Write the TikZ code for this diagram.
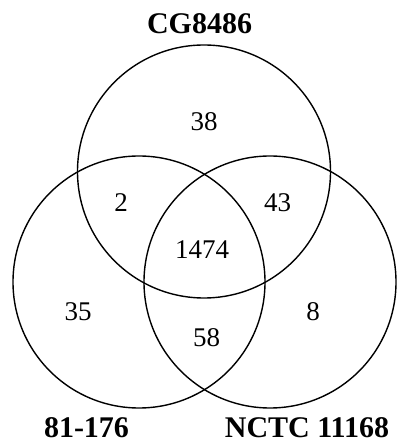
\documentclass[tikz,border=0pt]{standalone}
\usepackage{fontspec}
\setmainfont{Liberation Serif}
\begin{document}
\begin{tikzpicture}[x=1pt,y=1pt,
  ring/.style={draw=black,line width=1.4pt},
  num/.style={inner sep=0pt,font=\fontsize{27}{27}\selectfont},
  setlabel/.style={inner sep=0pt,font=\fontsize{30}{30}\selectfont\bfseries}]
\useasboundingbox[fill=white] (0,0) rectangle (398,443);
\draw[ring] (204,271.5) circle[radius=126.5];
\draw[ring] (139,161) circle[radius=126];
\draw[ring] (270,161) circle[radius=126];
\node[setlabel] (lt) at (199.5,419) {CG8486};
\node[setlabel] (ll) at (86.5,15) {81-176};
\node[setlabel] (lr) at (307,15) {NCTC 11168};
\node[num] (n38) at (204,321) {38};
\node[num] (n2) at (121,240) {2};
\node[num] (n43) at (277.5,240) {43};
\node[num] (n1474) at (202,193) {1474};
\node[num] (n35) at (78,131) {35};
\node[num] (n8) at (313,131) {8};
\node[num] (n58) at (206.5,105) {58};
\end{tikzpicture}
\end{document}
